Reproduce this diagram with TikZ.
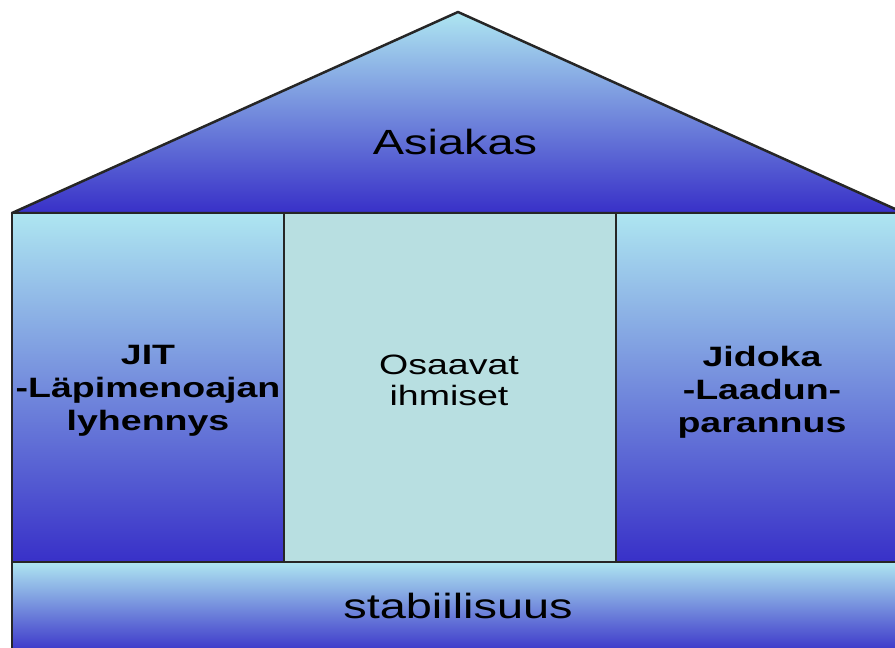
\documentclass[tikz,border=0pt]{standalone}
\usepackage{fontspec}
\setmainfont{Liberation Sans}[FakeStretch=1.34]
\begin{document}
\begin{tikzpicture}[x=1pt,y=-1pt,
  shadedpart/.style={draw=black!85,line width=2.5pt,line join=round,
    top color=lightC,middle color=midC,bottom color=deepC},
  plainpart/.style={draw=black!85,line width=2.5pt,fill=paleC},
  bigtext/.style={font=\fontsize{35}{38}\selectfont,align=center,inner sep=0pt},
  pillartext/.style={font=\fontsize{28}{33}\selectfont\bfseries,align=center,inner sep=0pt},
  midtext/.style={font=\fontsize{28}{31}\selectfont,align=center,inner sep=0pt}]
  \definecolor{lightC}{HTML}{AEE6F1}
  \definecolor{midC}{HTML}{84A9E2}
  \definecolor{deepC}{HTML}{3830C8}
  \definecolor{paleC}{HTML}{B8DFE1}
  \useasboundingbox (0,0) rectangle (895,648);
  \clip (0,0) rectangle (895,648);

  % roof
  \coordinate (roofL) at (12,213);
  \coordinate (roofT) at (458,12);
  \coordinate (roofR) at (904,213);
  \draw[shadedpart] (roofL) -- (roofT) -- (roofR) -- cycle;

  % pillars
  \draw[shadedpart] (12,213) rectangle (284,562);
  \draw[plainpart] (284,213) rectangle (616,562);
  \draw[shadedpart] (616,213) rectangle (906,562);

  % foundation
  \draw[shadedpart] (12,562) rectangle (906,654);

  % labels
  \node[bigtext] (asiakas) at (455,142) {Asiakas};
  \node[pillartext] (jit) at (148,391) {JIT\\-Läpimenoajan\\lyhennys};
  \node[midtext] (osaavat) at (449,380) {Osaavat\\ihmiset};
  \node[pillartext] (jidoka) at (762,392) {Jidoka\\-Laadun-\\parannus};
  \node[bigtext] (stabiili) at (458,606) {stabiilisuus};
\end{tikzpicture}
\end{document}
